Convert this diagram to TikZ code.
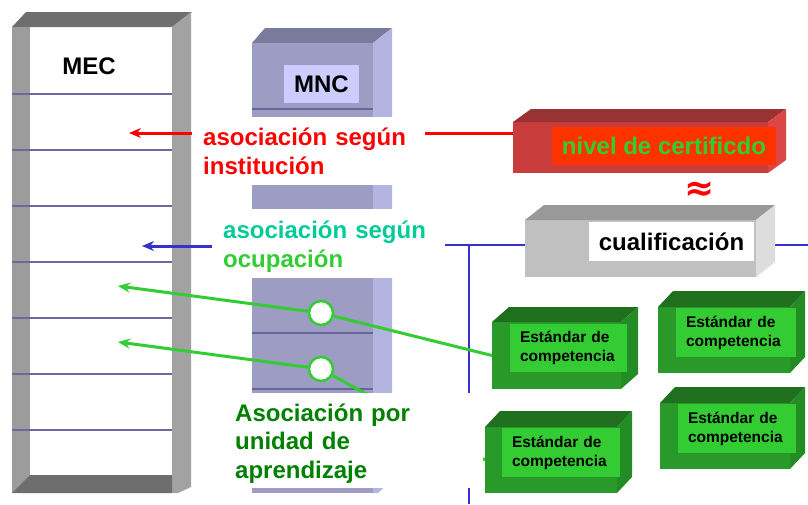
\documentclass[tikz,border=0pt]{standalone}
\usepackage{fontspec}
\setmainfont{Liberation Sans}
\newfontfamily\symfam{DejaVu Sans}
\usetikzlibrary{arrows.meta,calc}
\pgfdeclarelayer{bg}\pgfdeclarelayer{lines}\pgfdeclarelayer{cover}
\pgfsetlayers{bg,lines,cover,main}
\definecolor{mecTop}{HTML}{6E6E6E}
\definecolor{mecStrip}{HTML}{9C9C9C}
\definecolor{mecSide}{HTML}{A2A2A2}
\definecolor{mecLine}{HTML}{6A6AA0}
\definecolor{mncTop}{HTML}{7A7A9C}
\definecolor{mncFront}{HTML}{9D9DC4}
\definecolor{mncRight}{HTML}{B4B4E0}
\definecolor{mncLabel}{HTML}{CCCCFF}
\definecolor{mncLine}{HTML}{66669A}
\definecolor{redTop}{HTML}{993333}
\definecolor{redFront}{HTML}{C83C3C}
\definecolor{redRight}{HTML}{DC4646}
\definecolor{redLabel}{HTML}{FF3300}
\definecolor{gyTop}{HTML}{999999}
\definecolor{gyFront}{HTML}{C0C0C0}
\definecolor{gyRight}{HTML}{DDDDDD}
\definecolor{grTop}{HTML}{1F6F1F}
\definecolor{grFront}{HTML}{299A29}
\definecolor{grRight}{HTML}{248C24}
\definecolor{grLabel}{HTML}{33CC33}
\definecolor{txtRed}{HTML}{FF0000}
\definecolor{txtTeal}{HTML}{00CC99}
\definecolor{txtGreen}{HTML}{33CC33}
\definecolor{txtDark}{HTML}{008000}
\definecolor{lnBlue}{HTML}{3333CC}
\definecolor{lnGreen}{HTML}{33CC33}
% x1 y1 x2 y2 dx dy colourprefix name
\newcommand\cuboid[8]{%
  \fill[#7Front] (#1,#2) rectangle (#3,#4);
  \fill[#7Top] (#1,#2) -- (#1+#5,#2-#6) -- (#3+#5,#2-#6) -- (#3,#2) -- cycle;
  \fill[#7Right] (#3,#2) -- (#3+#5,#2-#6) -- (#3+#5,#4-#6) -- (#3,#4) -- cycle;
  \coordinate (#8W) at (#1,{(#2+#4)/2});
  \coordinate (#8E) at (#3+#5,{(#2+#4)/2});
}
\begin{document}
\begin{tikzpicture}[x=1pt,y=-1pt,
  bigtxt/.style={font=\fontsize{24}{29}\selectfont\bfseries, inner sep=0pt},
  smtxt/.style={font=\fontsize{15.5}{19}\selectfont\bfseries, inner ysep=0pt, inner xsep=10pt, align=left},
  lbl/.style={bigtxt, align=left, text width=240pt, anchor=base west},
  symtxt/.style={font=\symfam\bfseries\fontsize{36}{36}\selectfont, inner sep=0pt},
  gline/.style={draw=lnGreen, line width=3pt},
  tip/.style={-{Stealth[length=12pt,width=10pt]}},
  circ/.style={circle, draw=lnGreen, fill=white, line width=2.5pt, minimum size=24pt, inner sep=0pt}]
\useasboundingbox (0,0) rectangle (808,504);

\begin{pgfonlayer}{bg}
  \fill[white] (0,0) rectangle (808,504);
  % MEC column
  \fill[mecTop] (12,27) -- (26,12) -- (192,12) -- (172,27) -- cycle;
  \fill[mecSide] (172,27) -- (191,12) -- (191,487) -- (178,493) -- (172,493) -- cycle;
  \fill[mecStrip] (12,27) rectangle (30,493);
  \fill[mecTop] (12,493) -- (30,475) -- (172,475) -- (172,493) -- cycle;
  \foreach \yy in {94,150,206,262,318,374,430}
    \draw[mecLine, line width=1.5pt] (12,\yy) -- (172,\yy);
  % MNC column
  \fill[mncTop] (252,43) -- (265,28) -- (392,28) -- (373,43) -- cycle;
  \fill[mncFront] (252,43) rectangle (373,493);
  \fill[mncRight] (373,43) -- (392,28) -- (392,480) -- (378,493) -- (373,493) -- cycle;
  \foreach \yy in {109,165,221,277,333,389,445}
    \draw[mncLine, line width=1.5pt] (252,\yy) -- (373,\yy);
\end{pgfonlayer}

\node[bigtxt, anchor=base] (mec) at (89,74) {MEC};
\node[bigtxt, fill=mncLabel, minimum width=75pt, minimum height=38pt] (mnc) at (321.5,84) {MNC};

% red box
\cuboid{513}{122}{768}{173}{18}{13}{red}{certbox}
\node[bigtxt, fill=redLabel, text=txtGreen, minimum width=224pt, minimum height=38pt] (cert) at (664,146) {nivel de certificdo};
\node[symtxt, text=txtRed] (approxsym) at (700,191) {≈};
% grey box
\cuboid{525}{220}{756}{277}{19}{15}{gy}{cualbox}
\node[bigtxt, fill=white, minimum width=165pt, minimum height=39pt] (cual) at (671.5,241.5) {cualificación};
% green boxes
\cuboid{492}{322}{621}{389}{17}{15}{gr}{scAbox}
\node[smtxt, fill=grLabel, minimum width=117pt, minimum height=48pt, text width=97pt] (scA) at (568.5,348) {Estándar de\\competencia};
\cuboid{658}{307}{790}{373}{15}{16}{gr}{scBbox}
\node[smtxt, fill=grLabel, minimum width=120pt, minimum height=49pt, text width=100pt] (scB) at (736,332.5) {Estándar de\\competencia};
\cuboid{485}{427}{617}{493}{15}{16}{gr}{scCbox}
\node[smtxt, fill=grLabel, minimum width=118pt, minimum height=49pt, text width=98pt] (scC) at (561,452.5) {Estándar de\\competencia};
\cuboid{660}{403}{790}{469}{15}{16}{gr}{scDbox}
\node[smtxt, fill=grLabel, minimum width=118pt, minimum height=49pt, text width=98pt] (scD) at (737,428.5) {Estándar de\\competencia};

% circles
\node[circ] (c1) at (321,313) {};
\node[circ] (c2) at (321,369) {};

\begin{pgfonlayer}{lines}
  \coordinate (redTip) at (129,133);
  \coordinate (redL) at (192,133);
  \coordinate (redR) at (425,133);
  \coordinate (blueTip) at (142,246);
  \coordinate (blueL) at (212,246);
  \coordinate (blueR) at (445,245);
  \coordinate (blueEnd) at (808,245);
  \coordinate (vTop) at (469,245);
  \coordinate (vBot) at (469,504);
  \coordinate (tipA) at (118,286);
  \coordinate (tipB) at (118,342);
  \draw[txtRed, line width=3pt, tip] (redL) -- (redTip);
  \draw[txtRed, line width=3pt] (redR) -- (redR -| certboxW);
  \draw[lnBlue, line width=3pt, tip] (blueL) -- (blueTip);
  \draw[lnBlue, line width=2.5pt] (blueR) -- (blueR -| cualboxW);
  \draw[lnBlue, line width=1.3pt] (blueEnd -| cualboxE) -- (blueEnd);
  \draw[lnBlue, line width=1.5pt] (vTop) -- (vBot);
  \draw[gline, tip] (c1) -- (tipA);
  \draw[gline, tip] (c2) -- (tipB);
  \draw[gline] (c1) -- (scAboxW);
  \draw[gline] (c2) -- (scCboxW);
\end{pgfonlayer}

\begin{pgfonlayer}{cover}
  \fill[white] (192,117) rectangle (425,185);
  \fill[white] (212,209) rectangle (445,278);
  \fill[white] (230,393) rectangle (483,488);
\end{pgfonlayer}

\node[lbl, text=txtRed] (inst) at (203,145) {asociación según\\institución};
\node[lbl] (ocup) at (223,238.5) {\textcolor{txtTeal}{asociación según}\\\textcolor{txtGreen}{ocupación}};
\node[lbl, text=txtDark, font=\fontsize{24}{28.5}\selectfont\bfseries] (unit) at (235,421) {Asociación por\\unidad de\\aprendizaje};
\end{tikzpicture}
\end{document}
